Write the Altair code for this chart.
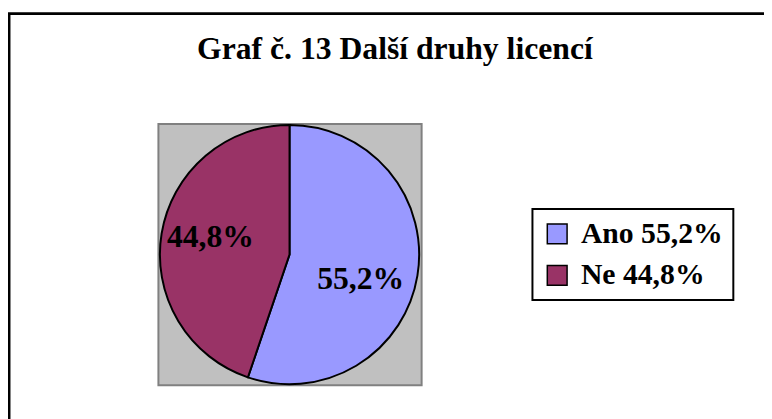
import altair as alt
import pandas as pd

TITLE = "Graf č. 13 Další druhy licencí"
categories = ["Ano", "Ne"]
values = [55.2, 44.8]
slice_labels = ["55,2%", "44,8%"]
legend_labels = ["Ano 55,2%", "Ne 44,8%"]
colors = ["#9999FF", "#993366"]

df = pd.DataFrame({
    "cat": legend_labels,
    "value": values,
    "label": slice_labels,
    "order": list(range(len(categories))),
})
one = pd.DataFrame({"t": [TITLE]})

W, H = 764, 411
CX, CY, R = 284.5, 247, 131
FONT = "Liberation Serif"

frame = alt.Chart(one).mark_rect(fill="white", stroke="black", strokeWidth=3).encode(
    x=alt.value(1), x2=alt.value(W + 30), y=alt.value(3.5), y2=alt.value(H + 30)
)

plot_bg = alt.Chart(one).mark_rect(fill="#C0C0C0", stroke="#808080", strokeWidth=2).encode(
    x=alt.value(152), x2=alt.value(418), y=alt.value(115), y2=alt.value(379)
)

theta = alt.Theta("value:Q", stack=True)
order = alt.Order("order:Q")

pie = alt.Chart(df).mark_arc(outerRadius=R, stroke="black", strokeWidth=2).encode(
    theta=theta,
    order=order,
    x=alt.value(CX),
    y=alt.value(CY),
    color=alt.Color(
        "cat:N",
        scale=alt.Scale(domain=legend_labels, range=colors),
        legend=alt.Legend(
            orient="none", legendX=530, legendY=201, title=None,
            strokeColor="black", fillColor="white", padding=10,
            symbolType="square", symbolSize=400, symbolStrokeColor="black",
            symbolStrokeWidth=1.5, labelFont=FONT, labelFontSize=30,
            labelFontWeight="bold", labelColor="black", rowPadding=12,
            labelOffset=9, labelLimit=0,
        ),
    ),
)

def slice_text(cat, dx, dy):
    return alt.Chart(df).mark_text(
        radius=80, font=FONT, fontSize=32, fontWeight="bold", color="black",
        align="center", baseline="middle", dx=dx, dy=dy,
    ).encode(
        theta=theta,
        order=order,
        x=alt.value(CX),
        y=alt.value(CY),
        text=alt.condition(alt.datum.cat == cat, "label:N", alt.value("")),
    )

lab_ano = slice_text(legend_labels[0], -7, 12)
lab_ne = slice_text(legend_labels[1], -1, -5)

title = alt.Chart(one).mark_text(
    font=FONT, fontSize=32, fontWeight="bold", color="black",
    align="center", baseline="alphabetic",
).encode(x=alt.value(391), y=alt.value(49), text="t:N")

chart = alt.layer(frame, plot_bg, pie, lab_ano, lab_ne, title).properties(
    width=W, height=H, padding=0, autosize=alt.AutoSizeParams(type="none"),
    background="white",
).configure_view(stroke=None).configure_legend(strokeWidth=2)

chart.save("out.html", embed_options={"renderer": "svg", "actions": False})
